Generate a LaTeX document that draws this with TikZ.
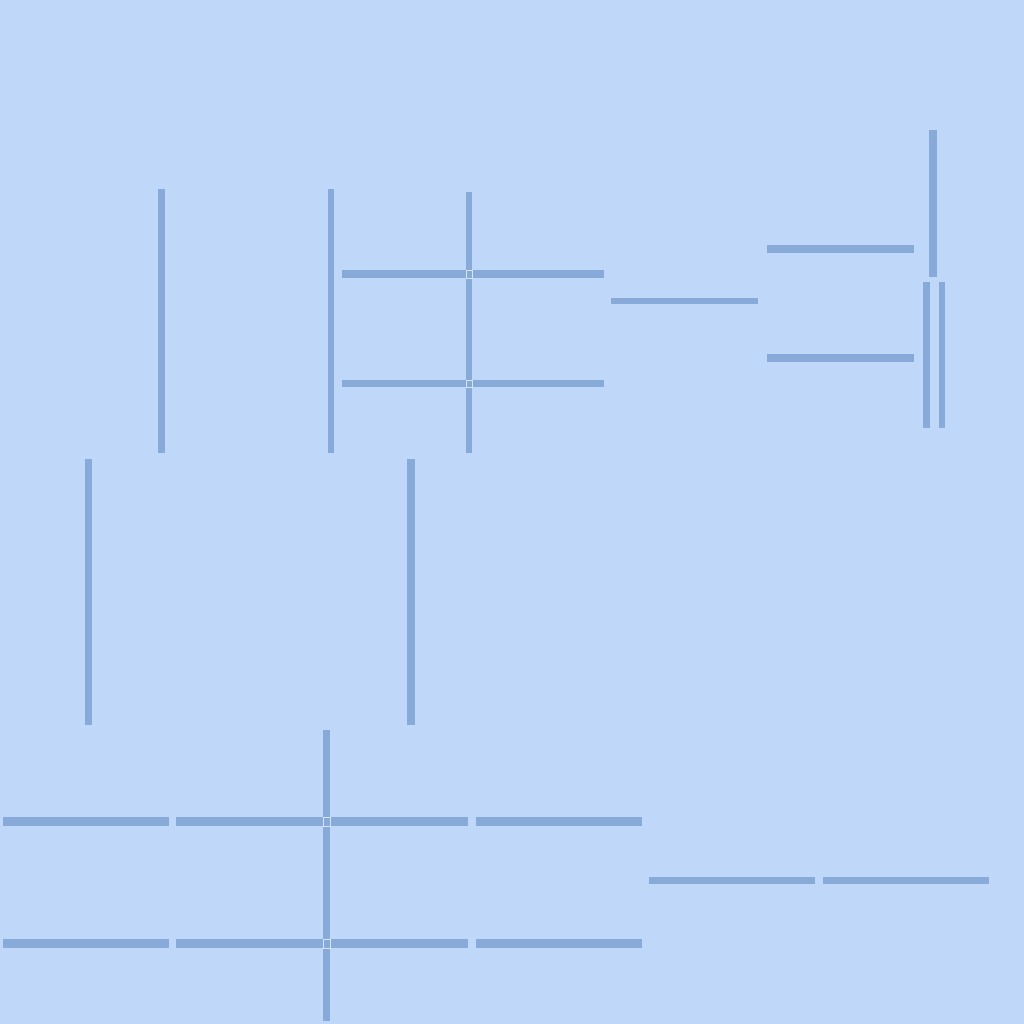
\documentclass[tikz,border=0pt]{standalone}
\definecolor{bgc}{HTML}{BFD7F8}
\definecolor{barc}{HTML}{88AAD9}
\definecolor{lite}{HTML}{D4E4FA}
\tikzset{bar/.style={fill=barc},cross/.style={draw=lite,line width=0.9pt}}
\begin{document}
\begin{tikzpicture}[x=1pt,y=-1pt]
\useasboundingbox (0,0) rectangle (1024,1024);
\fill[bgc] (0,0) rectangle (1024,1024);
% top-left verticals
\fill[bar] (158,189) rectangle (165,453);
\fill[bar] (328,189) rectangle (334,453);
\fill[bar] (466,192) rectangle (472,453);
% top grid horizontals
\fill[bar] (342,270) rectangle (604,278);
\fill[bar] (342,380) rectangle (604,387);
\draw[cross] (466,270) rectangle (472,278);
\draw[cross] (466,380) rectangle (472,387);
% middle line
\fill[bar] (611,298) rectangle (758,304);
% top right
\fill[bar] (767,245) rectangle (914,253);
\fill[bar] (767,354) rectangle (914,362);
\fill[bar] (929,130) rectangle (937,277);
\fill[bar] (923,282) rectangle (930,428);
\fill[bar] (939,282) rectangle (945,428);
% middle verticals
\fill[bar] (85,459) rectangle (92,725);
\fill[bar] (407,459) rectangle (415,725);
% bottom grid
\fill[bar] (323,730) rectangle (330,1021);
\fill[bar] (3,817) rectangle (169,826);
\fill[bar] (176,817) rectangle (468,826);
\fill[bar] (476,817) rectangle (642,826);
\fill[bar] (3,939) rectangle (169,948);
\fill[bar] (176,939) rectangle (468,948);
\fill[bar] (476,939) rectangle (642,948);
\draw[cross] (323,817) rectangle (330,826);
\draw[cross] (323,939) rectangle (330,948);
% bottom right
\fill[bar] (649,877) rectangle (815,884);
\fill[bar] (823,877) rectangle (989,884);
\end{tikzpicture}
\end{document}
